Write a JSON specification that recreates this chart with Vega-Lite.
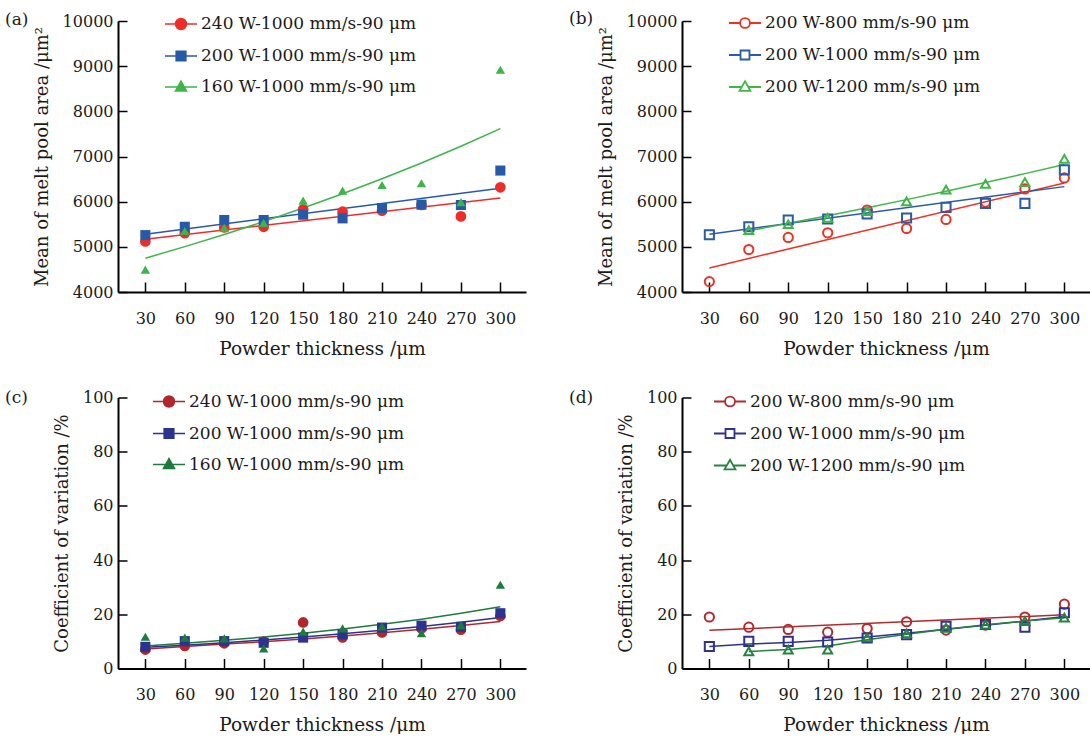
{
"$schema": "https://vega.github.io/schema/vega-lite/v6.json",
"background": "white",
"padding": {"left": 5, "top": 6, "right": 0, "bottom": 0},
"columns": 2,
"spacing": {"row": 105.5, "column": 156},
"bounds": "flush",
"datasets": {
"a": [
{"s":"240 W-1000 mm/s-90 μm","k":"p","x":30,"y":5118},{"s":"240 W-1000 mm/s-90 μm","k":"p","x":60,"y":5304},{"s":"240 W-1000 mm/s-90 μm","k":"p","x":90,"y":5430},{"s":"240 W-1000 mm/s-90 μm","k":"p","x":120,"y":5444},{"s":"240 W-1000 mm/s-90 μm","k":"p","x":150,"y":5830},{"s":"240 W-1000 mm/s-90 μm","k":"p","x":180,"y":5778},{"s":"240 W-1000 mm/s-90 μm","k":"p","x":210,"y":5800},{"s":"240 W-1000 mm/s-90 μm","k":"p","x":240,"y":5926},{"s":"240 W-1000 mm/s-90 μm","k":"p","x":270,"y":5674},{"s":"240 W-1000 mm/s-90 μm","k":"p","x":300,"y":6318},
{"s":"200 W-1000 mm/s-90 μm","k":"p","x":30,"y":5259},{"s":"200 W-1000 mm/s-90 μm","k":"p","x":60,"y":5444},{"s":"200 W-1000 mm/s-90 μm","k":"p","x":90,"y":5593},{"s":"200 W-1000 mm/s-90 μm","k":"p","x":120,"y":5593},{"s":"200 W-1000 mm/s-90 μm","k":"p","x":150,"y":5711},{"s":"200 W-1000 mm/s-90 μm","k":"p","x":180,"y":5630},{"s":"200 W-1000 mm/s-90 μm","k":"p","x":210,"y":5859},{"s":"200 W-1000 mm/s-90 μm","k":"p","x":240,"y":5933},{"s":"200 W-1000 mm/s-90 μm","k":"p","x":270,"y":5926},{"s":"200 W-1000 mm/s-90 μm","k":"p","x":300,"y":6689},
{"s":"160 W-1000 mm/s-90 μm","k":"p","x":30,"y":4496},{"s":"160 W-1000 mm/s-90 μm","k":"p","x":60,"y":5350},{"s":"160 W-1000 mm/s-90 μm","k":"p","x":90,"y":5420},{"s":"160 W-1000 mm/s-90 μm","k":"p","x":120,"y":5530},{"s":"160 W-1000 mm/s-90 μm","k":"p","x":150,"y":6022},{"s":"160 W-1000 mm/s-90 μm","k":"p","x":180,"y":6244},{"s":"160 W-1000 mm/s-90 μm","k":"p","x":210,"y":6370},{"s":"160 W-1000 mm/s-90 μm","k":"p","x":240,"y":6407},{"s":"160 W-1000 mm/s-90 μm","k":"p","x":270,"y":5990},{"s":"160 W-1000 mm/s-90 μm","k":"p","x":300,"y":8920},
{"s":"240 W-1000 mm/s-90 μm","k":"f","x":30,"y":5170},{"s":"240 W-1000 mm/s-90 μm","k":"f","x":300,"y":6081},
{"s":"200 W-1000 mm/s-90 μm","k":"f","x":30,"y":5281},{"s":"200 W-1000 mm/s-90 μm","k":"f","x":300,"y":6296},
{"s":"160 W-1000 mm/s-90 μm","k":"f","x":30,"y":4748},{"s":"160 W-1000 mm/s-90 μm","k":"f","x":60,"y":5004},{"s":"160 W-1000 mm/s-90 μm","k":"f","x":90,"y":5274},{"s":"160 W-1000 mm/s-90 μm","k":"f","x":120,"y":5558},{"s":"160 W-1000 mm/s-90 μm","k":"f","x":150,"y":5858},{"s":"160 W-1000 mm/s-90 μm","k":"f","x":180,"y":6174},{"s":"160 W-1000 mm/s-90 μm","k":"f","x":210,"y":6506},{"s":"160 W-1000 mm/s-90 μm","k":"f","x":240,"y":6857},{"s":"160 W-1000 mm/s-90 μm","k":"f","x":270,"y":7227},{"s":"160 W-1000 mm/s-90 μm","k":"f","x":300,"y":7616}
],
"b": [
{"s":"200 W-800 mm/s-90 μm","k":"p","x":30,"y":4230},{"s":"200 W-800 mm/s-90 μm","k":"p","x":60,"y":4941},{"s":"200 W-800 mm/s-90 μm","k":"p","x":90,"y":5207},{"s":"200 W-800 mm/s-90 μm","k":"p","x":120,"y":5311},{"s":"200 W-800 mm/s-90 μm","k":"p","x":150,"y":5815},{"s":"200 W-800 mm/s-90 μm","k":"p","x":180,"y":5407},{"s":"200 W-800 mm/s-90 μm","k":"p","x":210,"y":5607},{"s":"200 W-800 mm/s-90 μm","k":"p","x":240,"y":5990},{"s":"200 W-800 mm/s-90 μm","k":"p","x":270,"y":6281},{"s":"200 W-800 mm/s-90 μm","k":"p","x":300,"y":6526},
{"s":"200 W-1000 mm/s-90 μm","k":"p","x":30,"y":5267},{"s":"200 W-1000 mm/s-90 μm","k":"p","x":60,"y":5444},{"s":"200 W-1000 mm/s-90 μm","k":"p","x":90,"y":5593},{"s":"200 W-1000 mm/s-90 μm","k":"p","x":120,"y":5615},{"s":"200 W-1000 mm/s-90 μm","k":"p","x":150,"y":5726},{"s":"200 W-1000 mm/s-90 μm","k":"p","x":180,"y":5637},{"s":"200 W-1000 mm/s-90 μm","k":"p","x":210,"y":5874},{"s":"200 W-1000 mm/s-90 μm","k":"p","x":240,"y":5963},{"s":"200 W-1000 mm/s-90 μm","k":"p","x":270,"y":5963},{"s":"200 W-1000 mm/s-90 μm","k":"p","x":300,"y":6704},
{"s":"200 W-1200 mm/s-90 μm","k":"p","x":60,"y":5370},{"s":"200 W-1200 mm/s-90 μm","k":"p","x":90,"y":5500},{"s":"200 W-1200 mm/s-90 μm","k":"p","x":120,"y":5640},{"s":"200 W-1200 mm/s-90 μm","k":"p","x":150,"y":5790},{"s":"200 W-1200 mm/s-90 μm","k":"p","x":180,"y":6007},{"s":"200 W-1200 mm/s-90 μm","k":"p","x":210,"y":6267},{"s":"200 W-1200 mm/s-90 μm","k":"p","x":240,"y":6393},{"s":"200 W-1200 mm/s-90 μm","k":"p","x":270,"y":6430},{"s":"200 W-1200 mm/s-90 μm","k":"p","x":300,"y":6948},
{"s":"200 W-800 mm/s-90 μm","k":"f","x":30,"y":4533},{"s":"200 W-800 mm/s-90 μm","k":"f","x":300,"y":6415},
{"s":"200 W-1000 mm/s-90 μm","k":"f","x":30,"y":5281},{"s":"200 W-1000 mm/s-90 μm","k":"f","x":300,"y":6333},
{"s":"200 W-1200 mm/s-90 μm","k":"f","x":60,"y":5355},{"s":"200 W-1200 mm/s-90 μm","k":"f","x":90,"y":5520},{"s":"200 W-1200 mm/s-90 μm","k":"f","x":120,"y":5690},{"s":"200 W-1200 mm/s-90 μm","k":"f","x":150,"y":5866},{"s":"200 W-1200 mm/s-90 μm","k":"f","x":180,"y":6045},{"s":"200 W-1200 mm/s-90 μm","k":"f","x":210,"y":6232},{"s":"200 W-1200 mm/s-90 μm","k":"f","x":240,"y":6424},{"s":"200 W-1200 mm/s-90 μm","k":"f","x":270,"y":6621},{"s":"200 W-1200 mm/s-90 μm","k":"f","x":300,"y":6822}
],
"c": [
{"s":"240 W-1000 mm/s-90 μm","k":"p","x":30,"y":7.0},{"s":"240 W-1000 mm/s-90 μm","k":"p","x":60,"y":8.3},{"s":"240 W-1000 mm/s-90 μm","k":"p","x":90,"y":9.3},{"s":"240 W-1000 mm/s-90 μm","k":"p","x":120,"y":9.9},{"s":"240 W-1000 mm/s-90 μm","k":"p","x":150,"y":17.0},{"s":"240 W-1000 mm/s-90 μm","k":"p","x":180,"y":11.5},{"s":"240 W-1000 mm/s-90 μm","k":"p","x":210,"y":13.3},{"s":"240 W-1000 mm/s-90 μm","k":"p","x":240,"y":14.8},{"s":"240 W-1000 mm/s-90 μm","k":"p","x":270,"y":14.3},{"s":"240 W-1000 mm/s-90 μm","k":"p","x":300,"y":19.4},
{"s":"200 W-1000 mm/s-90 μm","k":"p","x":30,"y":8.0},{"s":"200 W-1000 mm/s-90 μm","k":"p","x":60,"y":10.1},{"s":"200 W-1000 mm/s-90 μm","k":"p","x":90,"y":10.1},{"s":"200 W-1000 mm/s-90 μm","k":"p","x":120,"y":9.5},{"s":"200 W-1000 mm/s-90 μm","k":"p","x":150,"y":11.4},{"s":"200 W-1000 mm/s-90 μm","k":"p","x":180,"y":12.6},{"s":"200 W-1000 mm/s-90 μm","k":"p","x":210,"y":15.1},{"s":"200 W-1000 mm/s-90 μm","k":"p","x":240,"y":15.8},{"s":"200 W-1000 mm/s-90 μm","k":"p","x":270,"y":15.4},{"s":"200 W-1000 mm/s-90 μm","k":"p","x":300,"y":20.4},
{"s":"160 W-1000 mm/s-90 μm","k":"p","x":30,"y":11.7},{"s":"160 W-1000 mm/s-90 μm","k":"p","x":60,"y":11.4},{"s":"160 W-1000 mm/s-90 μm","k":"p","x":90,"y":11.1},{"s":"160 W-1000 mm/s-90 μm","k":"p","x":120,"y":7.4},{"s":"160 W-1000 mm/s-90 μm","k":"p","x":150,"y":13.6},{"s":"160 W-1000 mm/s-90 μm","k":"p","x":180,"y":14.8},{"s":"160 W-1000 mm/s-90 μm","k":"p","x":210,"y":15.5},{"s":"160 W-1000 mm/s-90 μm","k":"p","x":240,"y":13.0},{"s":"160 W-1000 mm/s-90 μm","k":"p","x":270,"y":16.0},{"s":"160 W-1000 mm/s-90 μm","k":"p","x":300,"y":30.9},
{"s":"240 W-1000 mm/s-90 μm","k":"f","x":30,"y":7.2},{"s":"240 W-1000 mm/s-90 μm","k":"f","x":60,"y":8.1},{"s":"240 W-1000 mm/s-90 μm","k":"f","x":90,"y":9.0},{"s":"240 W-1000 mm/s-90 μm","k":"f","x":120,"y":9.9},{"s":"240 W-1000 mm/s-90 μm","k":"f","x":150,"y":10.9},{"s":"240 W-1000 mm/s-90 μm","k":"f","x":180,"y":12.0},{"s":"240 W-1000 mm/s-90 μm","k":"f","x":210,"y":13.2},{"s":"240 W-1000 mm/s-90 μm","k":"f","x":240,"y":14.5},{"s":"240 W-1000 mm/s-90 μm","k":"f","x":270,"y":15.9},{"s":"240 W-1000 mm/s-90 μm","k":"f","x":300,"y":17.3},
{"s":"200 W-1000 mm/s-90 μm","k":"f","x":30,"y":7.8},{"s":"200 W-1000 mm/s-90 μm","k":"f","x":60,"y":8.6},{"s":"200 W-1000 mm/s-90 μm","k":"f","x":90,"y":9.5},{"s":"200 W-1000 mm/s-90 μm","k":"f","x":120,"y":10.5},{"s":"200 W-1000 mm/s-90 μm","k":"f","x":150,"y":11.6},{"s":"200 W-1000 mm/s-90 μm","k":"f","x":180,"y":12.8},{"s":"200 W-1000 mm/s-90 μm","k":"f","x":210,"y":14.1},{"s":"200 W-1000 mm/s-90 μm","k":"f","x":240,"y":15.5},{"s":"200 W-1000 mm/s-90 μm","k":"f","x":270,"y":17.1},{"s":"200 W-1000 mm/s-90 μm","k":"f","x":300,"y":18.8},
{"s":"160 W-1000 mm/s-90 μm","k":"f","x":30,"y":8.3},{"s":"160 W-1000 mm/s-90 μm","k":"f","x":60,"y":9.3},{"s":"160 W-1000 mm/s-90 μm","k":"f","x":90,"y":10.4},{"s":"160 W-1000 mm/s-90 μm","k":"f","x":120,"y":11.6},{"s":"160 W-1000 mm/s-90 μm","k":"f","x":150,"y":13.0},{"s":"160 W-1000 mm/s-90 μm","k":"f","x":180,"y":14.55},{"s":"160 W-1000 mm/s-90 μm","k":"f","x":210,"y":16.3},{"s":"160 W-1000 mm/s-90 μm","k":"f","x":240,"y":18.2},{"s":"160 W-1000 mm/s-90 μm","k":"f","x":270,"y":20.4},{"s":"160 W-1000 mm/s-90 μm","k":"f","x":300,"y":22.8}
],
"d": [
{"s":"200 W-800 mm/s-90 μm","k":"p","x":30,"y":19.0},{"s":"200 W-800 mm/s-90 μm","k":"p","x":60,"y":15.25},{"s":"200 W-800 mm/s-90 μm","k":"p","x":90,"y":14.4},{"s":"200 W-800 mm/s-90 μm","k":"p","x":120,"y":13.4},{"s":"200 W-800 mm/s-90 μm","k":"p","x":150,"y":14.75},{"s":"200 W-800 mm/s-90 μm","k":"p","x":180,"y":17.25},{"s":"200 W-800 mm/s-90 μm","k":"p","x":210,"y":14.2},{"s":"200 W-800 mm/s-90 μm","k":"p","x":240,"y":16.0},{"s":"200 W-800 mm/s-90 μm","k":"p","x":270,"y":19.0},{"s":"200 W-800 mm/s-90 μm","k":"p","x":300,"y":23.75},
{"s":"200 W-1000 mm/s-90 μm","k":"p","x":30,"y":8.1},{"s":"200 W-1000 mm/s-90 μm","k":"p","x":60,"y":10.0},{"s":"200 W-1000 mm/s-90 μm","k":"p","x":90,"y":10.0},{"s":"200 W-1000 mm/s-90 μm","k":"p","x":120,"y":9.75},{"s":"200 W-1000 mm/s-90 μm","k":"p","x":150,"y":11.25},{"s":"200 W-1000 mm/s-90 μm","k":"p","x":180,"y":12.5},{"s":"200 W-1000 mm/s-90 μm","k":"p","x":210,"y":15.6},{"s":"200 W-1000 mm/s-90 μm","k":"p","x":240,"y":16.25},{"s":"200 W-1000 mm/s-90 μm","k":"p","x":270,"y":15.25},{"s":"200 W-1000 mm/s-90 μm","k":"p","x":300,"y":20.6},
{"s":"200 W-1200 mm/s-90 μm","k":"p","x":60,"y":6.3},{"s":"200 W-1200 mm/s-90 μm","k":"p","x":90,"y":7.0},{"s":"200 W-1200 mm/s-90 μm","k":"p","x":120,"y":7.0},{"s":"200 W-1200 mm/s-90 μm","k":"p","x":150,"y":11.5},{"s":"200 W-1200 mm/s-90 μm","k":"p","x":180,"y":13.0},{"s":"200 W-1200 mm/s-90 μm","k":"p","x":210,"y":15.0},{"s":"200 W-1200 mm/s-90 μm","k":"p","x":240,"y":16.2},{"s":"200 W-1200 mm/s-90 μm","k":"p","x":270,"y":17.5},{"s":"200 W-1200 mm/s-90 μm","k":"p","x":300,"y":18.75},
{"s":"200 W-800 mm/s-90 μm","k":"f","x":30,"y":14.1},{"s":"200 W-800 mm/s-90 μm","k":"f","x":300,"y":19.8},
{"s":"200 W-1000 mm/s-90 μm","k":"f","x":30,"y":8.1},{"s":"200 W-1000 mm/s-90 μm","k":"f","x":60,"y":9.0},{"s":"200 W-1000 mm/s-90 μm","k":"f","x":90,"y":9.6},{"s":"200 W-1000 mm/s-90 μm","k":"f","x":120,"y":10.4},{"s":"200 W-1000 mm/s-90 μm","k":"f","x":150,"y":11.6},{"s":"200 W-1000 mm/s-90 μm","k":"f","x":180,"y":13.0},{"s":"200 W-1000 mm/s-90 μm","k":"f","x":210,"y":14.5},{"s":"200 W-1000 mm/s-90 μm","k":"f","x":240,"y":16.0},{"s":"200 W-1000 mm/s-90 μm","k":"f","x":270,"y":17.5},{"s":"200 W-1000 mm/s-90 μm","k":"f","x":300,"y":19.2},
{"s":"200 W-1200 mm/s-90 μm","k":"f","x":60,"y":6.3},{"s":"200 W-1200 mm/s-90 μm","k":"f","x":90,"y":7.0},{"s":"200 W-1200 mm/s-90 μm","k":"f","x":120,"y":8.3},{"s":"200 W-1200 mm/s-90 μm","k":"f","x":150,"y":10.6},{"s":"200 W-1200 mm/s-90 μm","k":"f","x":180,"y":12.6},{"s":"200 W-1200 mm/s-90 μm","k":"f","x":210,"y":14.5},{"s":"200 W-1200 mm/s-90 μm","k":"f","x":240,"y":16.1},{"s":"200 W-1200 mm/s-90 μm","k":"f","x":270,"y":17.5},{"s":"200 W-1200 mm/s-90 μm","k":"f","x":300,"y":18.7}
]
},
"concat": [
{
"width": 408, "height": 271,
"title": {"text": "(a)"},
"data": {"name": "a"},
"encoding": {
"x": {"field": "x", "type": "quantitative", "scale": {"domain": [9.2, 319.5], "nice": false, "zero": false}, "axis": {"values": [30,60,90,120,150,180,210,240,270,300], "title": "Powder thickness /μm", "format": "d"}},
"y": {"field": "y", "type": "quantitative", "scale": {"domain": [4000, 10000], "nice": false, "zero": false}, "axis": {"values": [4000,5000,6000,7000,8000,9000,10000], "title": "Mean of melt pool area /μm²", "format": "d"}}
},
"resolve": {"scale": {"color": "independent", "stroke": "independent", "shape": "independent", "size": "independent"}},
"layer": [
{"transform": [{"filter": "datum.k == 'f'"}], "mark": {"type": "line", "strokeWidth": 1.5}, "encoding": {"stroke": {"field": "s", "type": "nominal", "scale": {"domain": ["240 W-1000 mm/s-90 μm","200 W-1000 mm/s-90 μm","160 W-1000 mm/s-90 μm"], "range": ["#ed2d2a","#2659a8","#3db54a"]}, "legend": null}}},
{"transform": [{"filter": "datum.k == 'p'"}], "mark": {"type": "point", "filled": true, "opacity": 1},
"encoding": {
"color": {"field": "s", "type": "nominal", "scale": {"domain": ["240 W-1000 mm/s-90 μm","200 W-1000 mm/s-90 μm","160 W-1000 mm/s-90 μm"], "range": ["#ed2d2a","#2659a8","#3db54a"]}, "legend": null},
"shape": {"field": "s", "type": "nominal", "scale": {"domain": ["240 W-1000 mm/s-90 μm","200 W-1000 mm/s-90 μm","160 W-1000 mm/s-90 μm"], "range": ["circle","square","triangle-up"]}, "legend": null},
"size": {"field": "s", "type": "nominal", "scale": {"domain": ["240 W-1000 mm/s-90 μm","200 W-1000 mm/s-90 μm","160 W-1000 mm/s-90 μm"], "range": [115, 88, 100]}, "legend": null}
}},
{"transform": [{"filter": "datum.k == 'p'"}], "mark": {"type": "point", "filled": true, "opacity": 0},
"encoding": {
"color": {"field": "s", "type": "nominal", "scale": {"domain": ["240 W-1000 mm/s-90 μm","200 W-1000 mm/s-90 μm","160 W-1000 mm/s-90 μm"], "range": ["#ed2d2a","#2659a8","#3db54a"]}, "legend": {"orient": "none", "legendX": 46, "legendY": -14, "title": null, "symbolOpacity": 1}},
"stroke": {"field": "s", "type": "nominal", "scale": {"domain": ["240 W-1000 mm/s-90 μm","200 W-1000 mm/s-90 μm","160 W-1000 mm/s-90 μm"], "range": ["#ed2d2a","#2659a8","#3db54a"]}, "legend": {"orient": "none", "legendX": 46, "legendY": -14, "title": null, "symbolOpacity": 1}},
"shape": {"field": "s", "type": "nominal", "scale": {"domain": ["240 W-1000 mm/s-90 μm","200 W-1000 mm/s-90 μm","160 W-1000 mm/s-90 μm"], "range": ["M-1,0H1M-0.34,0A0.34,0.34,0,1,1,0.34,0A0.34,0.34,0,1,1,-0.34,0Z","M-1,0H1M-0.3,-0.3H0.3V0.3H-0.3Z","M-1,0H1M0,-0.36L0.34,0.24H-0.34Z"]}, "legend": {"orient": "none", "legendX": 46, "legendY": -14, "title": null, "symbolOpacity": 1}}
}}
]
},
{
"width": 408, "height": 271,
"title": {"text": "(b)"},
"data": {"name": "b"},
"encoding": {
"x": {"field": "x", "type": "quantitative", "scale": {"domain": [9.2, 319.5], "nice": false, "zero": false}, "axis": {"values": [30,60,90,120,150,180,210,240,270,300], "title": "Powder thickness /μm", "format": "d"}},
"y": {"field": "y", "type": "quantitative", "scale": {"domain": [4000, 10000], "nice": false, "zero": false}, "axis": {"values": [4000,5000,6000,7000,8000,9000,10000], "title": "Mean of melt pool area /μm²", "format": "d"}}
},
"resolve": {"scale": {"color": "independent", "stroke": "independent", "shape": "independent", "size": "independent"}},
"layer": [
{"transform": [{"filter": "datum.k == 'f'"}], "mark": {"type": "line", "strokeWidth": 1.5}, "encoding": {"stroke": {"field": "s", "type": "nominal", "scale": {"domain": ["200 W-800 mm/s-90 μm","200 W-1000 mm/s-90 μm","200 W-1200 mm/s-90 μm"], "range": ["#ee3124","#2b5aa8","#41b549"]}, "legend": null}}},
{"transform": [{"filter": "datum.k == 'p'"}], "mark": {"type": "point", "filled": false, "opacity": 1, "strokeWidth": 2},
"encoding": {
"color": {"field": "s", "type": "nominal", "scale": {"domain": ["200 W-800 mm/s-90 μm","200 W-1000 mm/s-90 μm","200 W-1200 mm/s-90 μm"], "range": ["#ee3124","#2b5aa8","#41b549"]}, "legend": null},
"shape": {"field": "s", "type": "nominal", "scale": {"domain": ["200 W-800 mm/s-90 μm","200 W-1000 mm/s-90 μm","200 W-1200 mm/s-90 μm"], "range": ["circle","square","triangle-up"]}, "legend": null},
"size": {"field": "s", "type": "nominal", "scale": {"domain": ["200 W-800 mm/s-90 μm","200 W-1000 mm/s-90 μm","200 W-1200 mm/s-90 μm"], "range": [85, 80, 90]}, "legend": null}
}},
{"transform": [{"filter": "datum.k == 'p'"}], "mark": {"type": "point", "filled": false, "opacity": 0},
"encoding": {
"stroke": {"field": "s", "type": "nominal", "scale": {"domain": ["200 W-800 mm/s-90 μm","200 W-1000 mm/s-90 μm","200 W-1200 mm/s-90 μm"], "range": ["#ee3124","#2b5aa8","#41b549"]}, "legend": {"orient": "none", "legendX": 46, "legendY": -15, "title": null, "symbolOpacity": 1, "symbolFillColor": "white", "symbolStrokeWidth": 1.8}},
"shape": {"field": "s", "type": "nominal", "scale": {"domain": ["200 W-800 mm/s-90 μm","200 W-1000 mm/s-90 μm","200 W-1200 mm/s-90 μm"], "range": ["M-1,0H-0.31M0.31,0H1M-0.31,0A0.31,0.31,0,1,1,0.31,0A0.31,0.31,0,1,1,-0.31,0Z","M-1,0H-0.28M0.28,0H1M-0.28,-0.28H0.28V0.28H-0.28Z","M-1,0H-0.2M0.2,0H1M0,-0.36L0.34,0.24H-0.34Z"]}, "legend": {"orient": "none", "legendX": 46, "legendY": -15, "title": null, "symbolOpacity": 1, "symbolFillColor": "white", "symbolStrokeWidth": 1.8}}
}}
]
},
{
"width": 408, "height": 271,
"title": {"text": "(c)"},
"data": {"name": "c"},
"encoding": {
"x": {"field": "x", "type": "quantitative", "scale": {"domain": [9.2, 319.5], "nice": false, "zero": false}, "axis": {"values": [30,60,90,120,150,180,210,240,270,300], "title": "Powder thickness /μm", "format": "d"}},
"y": {"field": "y", "type": "quantitative", "scale": {"domain": [0, 100], "nice": false}, "axis": {"values": [0,20,40,60,80,100], "title": "Coefficient of variation /%", "format": "d"}}
},
"resolve": {"scale": {"color": "independent", "stroke": "independent", "shape": "independent", "size": "independent"}},
"layer": [
{"transform": [{"filter": "datum.k == 'f'"}], "mark": {"type": "line", "strokeWidth": 1.5}, "encoding": {"stroke": {"field": "s", "type": "nominal", "scale": {"domain": ["240 W-1000 mm/s-90 μm","200 W-1000 mm/s-90 μm","160 W-1000 mm/s-90 μm"], "range": ["#b0282d","#2b3391","#1e7b3b"]}, "legend": null}}},
{"transform": [{"filter": "datum.k == 'p'"}], "mark": {"type": "point", "filled": true, "opacity": 1},
"encoding": {
"color": {"field": "s", "type": "nominal", "scale": {"domain": ["240 W-1000 mm/s-90 μm","200 W-1000 mm/s-90 μm","160 W-1000 mm/s-90 μm"], "range": ["#b0282d","#2b3391","#1e7b3b"]}, "legend": null},
"shape": {"field": "s", "type": "nominal", "scale": {"domain": ["240 W-1000 mm/s-90 μm","200 W-1000 mm/s-90 μm","160 W-1000 mm/s-90 μm"], "range": ["circle","square","triangle-up"]}, "legend": null},
"size": {"field": "s", "type": "nominal", "scale": {"domain": ["240 W-1000 mm/s-90 μm","200 W-1000 mm/s-90 μm","160 W-1000 mm/s-90 μm"], "range": [115, 88, 100]}, "legend": null}
}},
{"transform": [{"filter": "datum.k == 'p'"}], "mark": {"type": "point", "filled": true, "opacity": 0},
"encoding": {
"color": {"field": "s", "type": "nominal", "scale": {"domain": ["240 W-1000 mm/s-90 μm","200 W-1000 mm/s-90 μm","160 W-1000 mm/s-90 μm"], "range": ["#b0282d","#2b3391","#1e7b3b"]}, "legend": {"orient": "none", "legendX": 34, "legendY": -13, "title": null, "symbolOpacity": 1}},
"stroke": {"field": "s", "type": "nominal", "scale": {"domain": ["240 W-1000 mm/s-90 μm","200 W-1000 mm/s-90 μm","160 W-1000 mm/s-90 μm"], "range": ["#b0282d","#2b3391","#1e7b3b"]}, "legend": {"orient": "none", "legendX": 34, "legendY": -13, "title": null, "symbolOpacity": 1}},
"shape": {"field": "s", "type": "nominal", "scale": {"domain": ["240 W-1000 mm/s-90 μm","200 W-1000 mm/s-90 μm","160 W-1000 mm/s-90 μm"], "range": ["M-1,0H1M-0.34,0A0.34,0.34,0,1,1,0.34,0A0.34,0.34,0,1,1,-0.34,0Z","M-1,0H1M-0.3,-0.3H0.3V0.3H-0.3Z","M-1,0H1M0,-0.36L0.34,0.24H-0.34Z"]}, "legend": {"orient": "none", "legendX": 34, "legendY": -13, "title": null, "symbolOpacity": 1}}
}}
]
},
{
"width": 408, "height": 271,
"title": {"text": "(d)"},
"data": {"name": "d"},
"encoding": {
"x": {"field": "x", "type": "quantitative", "scale": {"domain": [9.2, 319.5], "nice": false, "zero": false}, "axis": {"values": [30,60,90,120,150,180,210,240,270,300], "title": "Powder thickness /μm", "format": "d"}},
"y": {"field": "y", "type": "quantitative", "scale": {"domain": [0, 100], "nice": false}, "axis": {"values": [0,20,40,60,80,100], "title": "Coefficient of variation /%", "format": "d"}}
},
"resolve": {"scale": {"color": "independent", "stroke": "independent", "shape": "independent", "size": "independent"}},
"layer": [
{"transform": [{"filter": "datum.k == 'f'"}], "mark": {"type": "line", "strokeWidth": 1.5}, "encoding": {"stroke": {"field": "s", "type": "nominal", "scale": {"domain": ["200 W-800 mm/s-90 μm","200 W-1000 mm/s-90 μm","200 W-1200 mm/s-90 μm"], "range": ["#b22a2e","#2e3192","#24843f"]}, "legend": null}}},
{"transform": [{"filter": "datum.k == 'p'"}], "mark": {"type": "point", "filled": false, "opacity": 1, "strokeWidth": 2},
"encoding": {
"color": {"field": "s", "type": "nominal", "scale": {"domain": ["200 W-800 mm/s-90 μm","200 W-1000 mm/s-90 μm","200 W-1200 mm/s-90 μm"], "range": ["#b22a2e","#2e3192","#24843f"]}, "legend": null},
"shape": {"field": "s", "type": "nominal", "scale": {"domain": ["200 W-800 mm/s-90 μm","200 W-1000 mm/s-90 μm","200 W-1200 mm/s-90 μm"], "range": ["circle","square","triangle-up"]}, "legend": null},
"size": {"field": "s", "type": "nominal", "scale": {"domain": ["200 W-800 mm/s-90 μm","200 W-1000 mm/s-90 μm","200 W-1200 mm/s-90 μm"], "range": [85, 80, 90]}, "legend": null}
}},
{"transform": [{"filter": "datum.k == 'p'"}], "mark": {"type": "point", "filled": false, "opacity": 0},
"encoding": {
"stroke": {"field": "s", "type": "nominal", "scale": {"domain": ["200 W-800 mm/s-90 μm","200 W-1000 mm/s-90 μm","200 W-1200 mm/s-90 μm"], "range": ["#b22a2e","#2e3192","#24843f"]}, "legend": {"orient": "none", "legendX": 31, "legendY": -13, "title": null, "symbolOpacity": 1, "symbolFillColor": "white", "symbolStrokeWidth": 1.8}},
"shape": {"field": "s", "type": "nominal", "scale": {"domain": ["200 W-800 mm/s-90 μm","200 W-1000 mm/s-90 μm","200 W-1200 mm/s-90 μm"], "range": ["M-1,0H-0.31M0.31,0H1M-0.31,0A0.31,0.31,0,1,1,0.31,0A0.31,0.31,0,1,1,-0.31,0Z","M-1,0H-0.28M0.28,0H1M-0.28,-0.28H0.28V0.28H-0.28Z","M-1,0H-0.2M0.2,0H1M0,-0.36L0.34,0.24H-0.34Z"]}, "legend": {"orient": "none", "legendX": 31, "legendY": -13, "title": null, "symbolOpacity": 1, "symbolFillColor": "white", "symbolStrokeWidth": 1.8}}
}}
]
}
],
"resolve": {
"scale": {"x": "independent", "y": "independent", "color": "independent", "stroke": "independent", "shape": "independent", "size": "independent"},
"axis": {"x": "independent", "y": "independent"},
"legend": {"color": "independent", "stroke": "independent", "shape": "independent", "size": "independent"}
},
"config": {
"view": {"stroke": null},
"axis": {"domainColor": "#000000", "domainWidth": 2, "tickColor": "#000000", "tickWidth": 1.5, "grid": false, "labelFont": "DejaVu Serif", "labelFontSize": 16, "labelColor": "#1a1a1a", "titleFont": "DejaVu Serif", "titleFontSize": 18, "titleFontWeight": "normal", "titleColor": "#1a1a1a", "labelFlush": false, "labelOverlap": false},
"axisX": {"tickSize": -10, "labelPadding": 28, "titlePadding": 13, "titleFontSize": 18.5},
"axisY": {"tickSize": -9, "labelPadding": 14, "titlePadding": 11},
"legend": {"symbolSize": 1024, "symbolStrokeWidth": 1.6, "labelFont": "DejaVu Serif", "labelFontSize": 17, "labelColor": "#1a1a1a", "labelOffset": 3, "labelLimit": 400, "rowPadding": 6, "padding": 0},
"title": {"anchor": "start", "frame": "group", "dx": -113, "offset": -22, "font": "DejaVu Serif", "fontSize": 17, "fontWeight": "normal", "color": "#1a1a1a"}
}
}
